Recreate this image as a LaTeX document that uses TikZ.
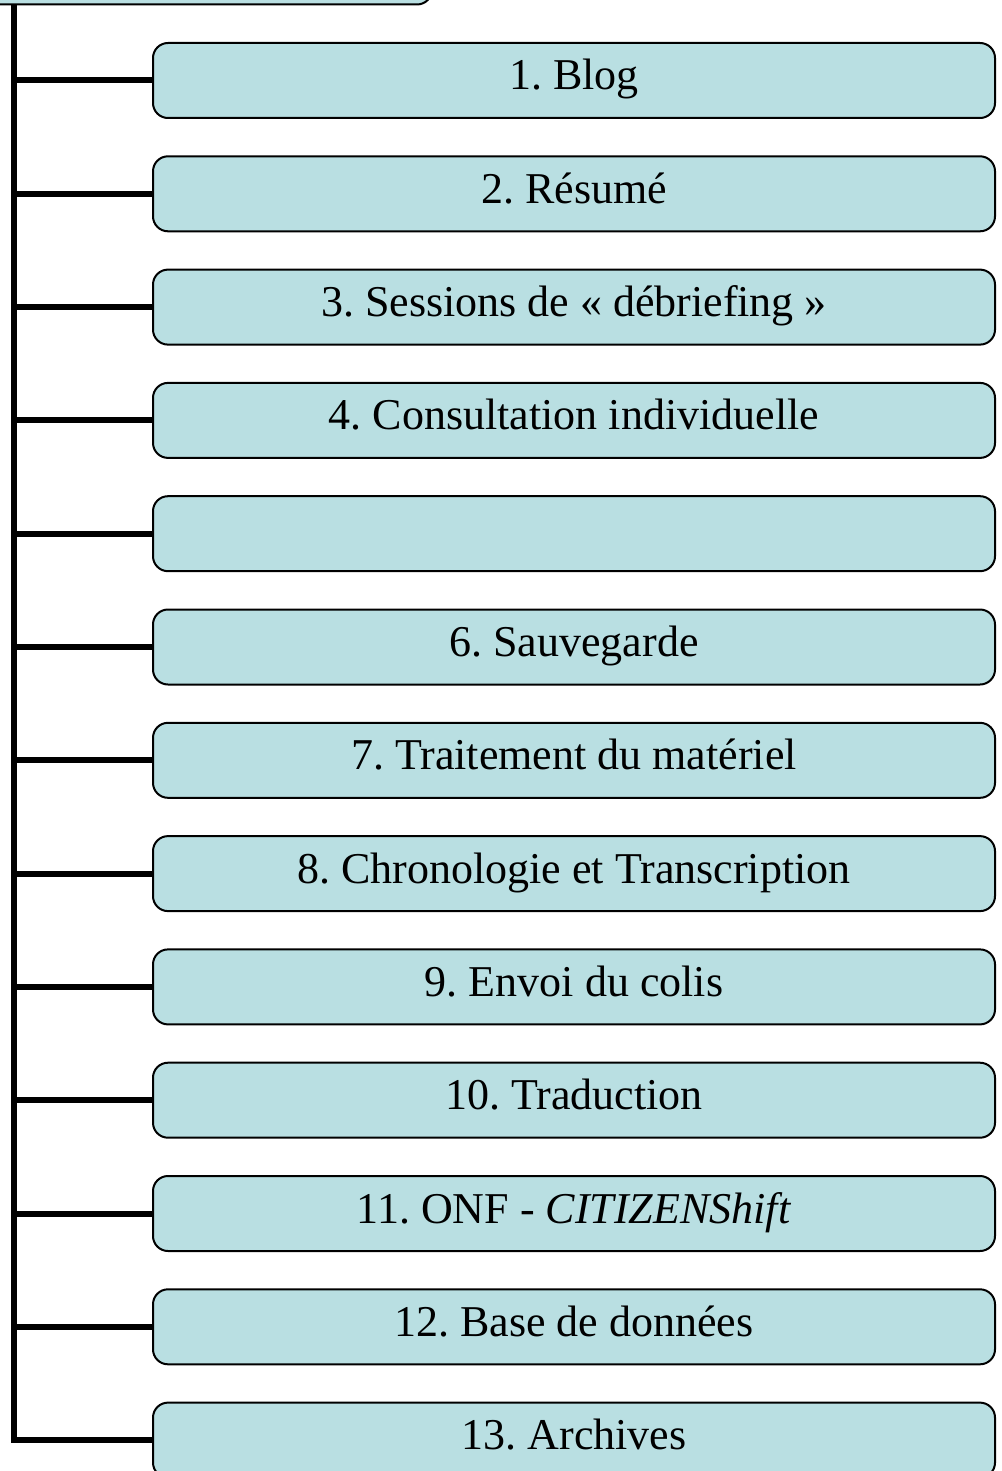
\documentclass[tikz,border=0pt]{standalone}
\usepackage{fontspec}
\setmainfont{Liberation Serif}
\definecolor{boxfill}{RGB}{185,223,226}
\frenchspacing

\begin{document}
\begin{tikzpicture}[x=1pt, y=-1pt]
		\tikzstyle{every node}=[inner sep=1pt, align=center]
		\tikzstyle{stepbox}=[draw, line width=2pt, fill=boxfill, rounded corners=15pt, minimum width=842pt, minimum height=75pt, text height=31pt, text depth=12pt, font=\fontsize{44}{52}\selectfont]
		\tikzstyle{conn}=[line width=6pt]
		\useasboundingbox (0, 0) rectangle (1001, 1471);
		\clip (0, 0) rectangle (1001, 1471);
		\coordinate (trunk) at (13.5, 0);
		\node [stepbox, minimum width=900pt] (root) at (-18, -33) {};
		\node [stepbox] (b1) at (574, 80.5) {1. Blog};
		\node [stepbox] (b2) at (574, 193.8) {2. Résumé};
		\node [stepbox] (b3) at (574, 307.1) {3. Sessions de «~débriefing~»};
		\node [stepbox] (b4) at (574, 420.4) {4. Consultation individuelle};
		\node [stepbox] (b5) at (574, 533.7) {};
		\node [stepbox] (b6) at (574, 647) {6. Sauvegarde};
		\node [stepbox] (b7) at (574, 760.3) {7. Traitement du matériel};
		\node [stepbox] (b8) at (574, 873.6) {8. Chronologie et Transcription};
		\node [stepbox] (b9) at (574, 986.9) {9. Envoi du colis};
		\node [stepbox] (b10) at (574, 1100.2) {10. Traduction};
		\node [stepbox] (b11) at (574, 1213.5) {11. ONF - \textit{CITIZENShift}};
		\node [stepbox] (b12) at (574, 1326.8) {12. Base de données};
		\node [stepbox] (b13) at (574, 1440.1) {13. Archives};
		\draw [conn] (root.south -| trunk) |- (b13.west);
		\foreach \i in {1,...,12}
			\draw [conn] (b\i.west -| trunk) -- (b\i.west);
\end{tikzpicture}
\end{document}
